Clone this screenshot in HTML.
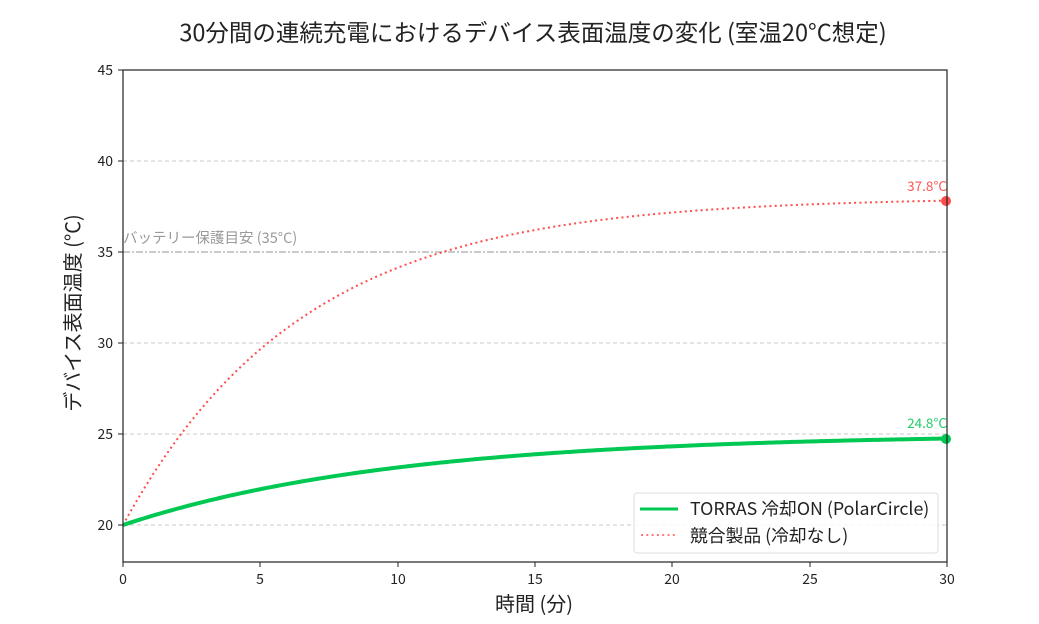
<!DOCTYPE html>
<html><head><meta charset="utf-8"><style>
body{margin:0;background:#fff;}
svg{display:block;font-family:"Noto Sans CJK JP","Liberation Sans",sans-serif;}
</style></head><body>
<svg width="1039" height="624" viewBox="0 0 1039 624" xmlns="http://www.w3.org/2000/svg">
<rect width="1039" height="624" fill="#fff"/>
<text x="533" y="41" font-size="23.5" text-anchor="middle" fill="#222">30分間の連続充電におけるデバイス表面温度の変化 (室温20°C想定)</text>
<g stroke="#c8c8c8" stroke-width="1" stroke-dasharray="4,3">
<line x1="123" y1="161" x2="947" y2="161"/>
<line x1="123" y1="343" x2="947" y2="343"/>
<line x1="123" y1="434" x2="947" y2="434"/>
<line x1="123" y1="525" x2="947" y2="525"/>
</g>
<line x1="123" y1="252" x2="947" y2="252" stroke="#aaa" stroke-width="1.2" stroke-dasharray="7,2,2,2"/>
<text x="123" y="243" font-size="14.5" fill="#999">バッテリー保護目安 (35°C)</text>
<path id="red" fill="none" stroke="#ff4d4d" stroke-width="2" stroke-dasharray="2,3.3"/>
<path id="green" fill="none" stroke="#00c853" stroke-width="4"/>
<circle cx="946" cy="201" r="5" fill="#ff4d4d"/>
<circle cx="946" cy="439" r="5" fill="#00c853"/>
<text x="947" y="191" font-size="13.5" fill="#ff5555" text-anchor="end">37.8°C</text>
<text x="947" y="428" font-size="13.5" fill="#22cc66" text-anchor="end">24.8°C</text>
<rect x="123" y="70" width="824" height="492" fill="none" stroke="#222" stroke-width="1.2"/>
<g stroke="#222" stroke-width="1">
<line x1="118" y1="70" x2="123" y2="70"/><line x1="118" y1="161" x2="123" y2="161"/>
<line x1="118" y1="252" x2="123" y2="252"/><line x1="118" y1="343" x2="123" y2="343"/>
<line x1="118" y1="434" x2="123" y2="434"/><line x1="118" y1="525" x2="123" y2="525"/>
<line x1="123" y1="562" x2="123" y2="567"/><line x1="260" y1="562" x2="260" y2="567"/>
<line x1="398" y1="562" x2="398" y2="567"/><line x1="535" y1="562" x2="535" y2="567"/>
<line x1="672" y1="562" x2="672" y2="567"/><line x1="810" y1="562" x2="810" y2="567"/>
<line x1="947" y1="562" x2="947" y2="567"/>
</g>
<g font-size="14" fill="#222" text-anchor="end">
<text x="113" y="75">45</text><text x="113" y="166">40</text><text x="113" y="257">35</text>
<text x="113" y="348">30</text><text x="113" y="439">25</text><text x="113" y="530">20</text>
</g>
<g font-size="14" fill="#222" text-anchor="middle">
<text x="123" y="584">0</text><text x="260" y="584">5</text><text x="398" y="584">10</text>
<text x="535" y="584">15</text><text x="672" y="584">20</text><text x="810" y="584">25</text><text x="947" y="584">30</text>
</g>
<text x="534" y="611" font-size="20" text-anchor="middle" fill="#222">時間 (分)</text>
<text transform="translate(80,313) rotate(-90)" font-size="20" text-anchor="middle" fill="#222">デバイス表面温度 (°C)</text>
<rect x="634" y="493" width="304" height="60" rx="3" fill="#fff" fill-opacity="0.85" stroke="#ddd"/>
<line x1="640" y1="509" x2="678" y2="509" stroke="#00c853" stroke-width="3"/>
<line x1="641" y1="535" x2="678" y2="535" stroke="#ff4d4d" stroke-width="1.6" stroke-dasharray="2,3.3"/>
<text x="690" y="515" font-size="17.8" fill="#222">TORRAS 冷却ON (PolarCircle)</text>
<text x="690" y="542" font-size="17.8" fill="#222">競合製品 (冷却なし)</text>
</svg>
<script>
function X(t){return 123+t*824/30;}function Y(v){return 525-(v-20)*18.2;}
function mk(f){var d="";for(var i=0;i<=300;i++){var t=i*0.1;d+=(i?"L":"M")+X(t).toFixed(2)+","+Y(f(t)).toFixed(2);}return d;}
document.getElementById("red").setAttribute("d",mk(function(t){return 20+18*(1-Math.exp(-t/6.5));}));
document.getElementById("green").setAttribute("d",mk(function(t){return 20+5*(1-Math.exp(-t/10));}));
</script>
</body></html>
